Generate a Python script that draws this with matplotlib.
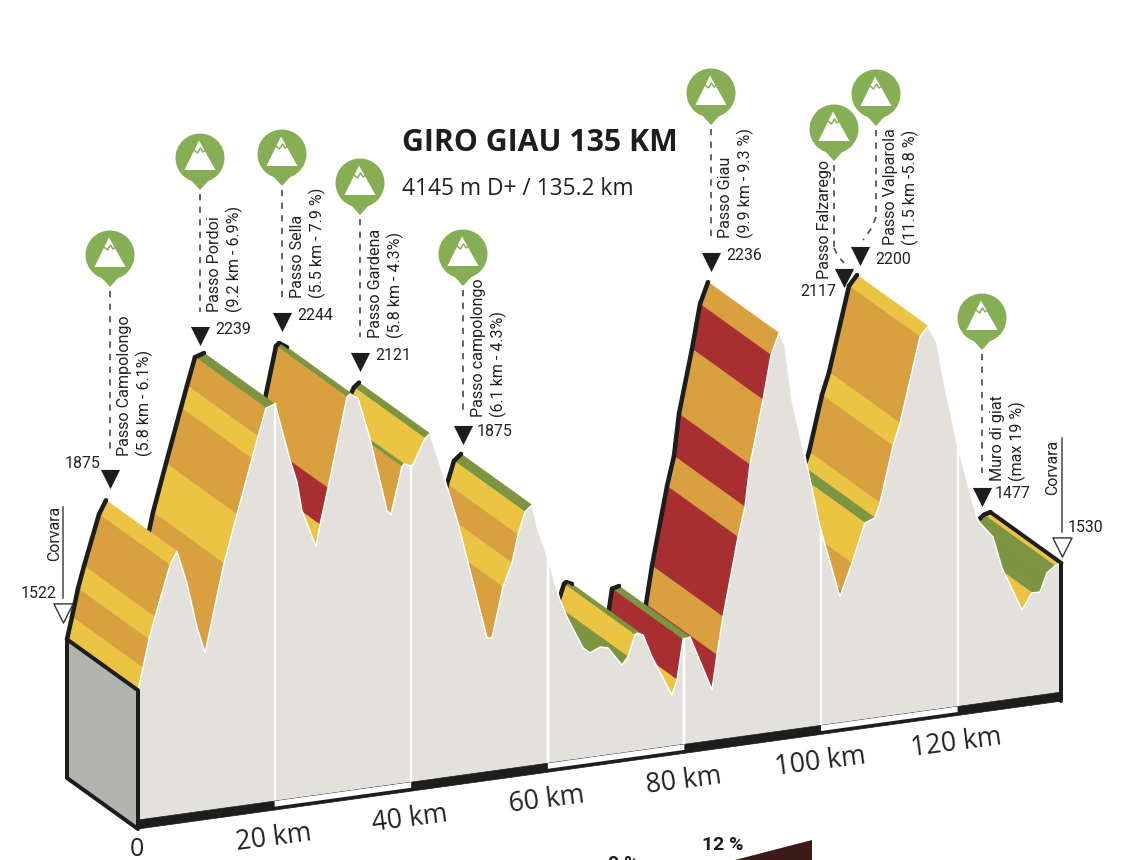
"""Giro Giau 135 km: oblique elevation profile with gradient bands."""
import matplotlib
matplotlib.use("Agg")
import matplotlib.pyplot as plt
import numpy as np
from matplotlib.patches import Circle, Polygon

# Profile. grade[i] is the band of the stretch that ends
# at point i, "-" marks a stretch whose surface faces away from the viewer.
profile_km = [
    0, 0.73, 1.61, 2.49, 4.69, 5.71,
    7.17, 8.64, 9.81,
    12.59, 14.49, 16.69, 17.57, 18.74, 20.06,
    22.25, 23.28, 24.01, 26.06,
    26.65, 27.82, 30.6, 31.04, 32.21,
    33.97, 36.46, 37.04,
    38.65, 38.95, 40.12, 42.02, 42.75,
    43.78, 45.39, 46.85, 51.1, 51.83,
    53.44, 54.76, 55.64, 56.66, 57.69,
    58.57, 59.74, 61.79, 62.81, 65.15, 66.18,
    67.64, 68.81, 70.86,
    71.74, 72.77, 73.06, 73.94,
    75.26, 78.18,
    78.92, 79.8, 80.82, 84.04,
    84.77, 85.65, 87.85, 88.87, 89.6, 91.51, 92.68, 93.85,
    94.73, 95.75, 98.1, 99.85, 102.78,
    103.07, 104.54, 106.44, 107.91, 108.64, 110.54, 111.57, 114.5, 115.67,
    116.98, 117.86, 119.91, 122.84, 123.28, 125.18, 126.5, 129.43,
    130.9, 132.06, 133.09, 134.26, 135.2,
]
profile_alt = [
    1508, 1566, 1640, 1698, 1831, 1866,
    1776, 1655, 1584,
    1817, 1943, 2087, 2144, 2217, 2225,
    2070, 2008, 1930, 1830,
    1886, 1981, 2218, 2225, 2211,
    2099, 1900, 1888,
    2012, 2019, 2009, 2080, 2091,
    2031, 1934, 1842, 1524, 1523,
    1655, 1716, 1789, 1848, 1864,
    1795, 1733, 1600, 1552, 1464, 1448,
    1460, 1455, 1404,
    1424, 1480, 1484, 1477,
    1415, 1306,
    1345, 1450, 1455, 1306,
    1397, 1497, 1705, 1783, 1894, 2063, 2180, 2236,
    2202, 2053, 1860, 1703, 1509,
    1524, 1595, 1698, 1708, 1746, 1894, 1952, 2176, 2202,
    2154, 2061, 1879, 1672, 1657, 1615, 1529, 1410,
    1452, 1451, 1500, 1516, 1521,
]
profile_grade = list(
    "-YOYOY"
    "---"
    "OYOYOG"
    "----"
    "YROGG"
    "---"
    "OGYYG"
    "----O"
    "OYOYG"
    "------"
    "GG-"
    "GYGG"
    "--"
    "YRG-"
    "ROROROR" "O"
    "-----"
    "GOYGYOYOY"
    "--------"
    "YGGGY"
)

km_ticks = [0, 20, 40, 60, 80, 100, 120]
km_labels = ["0", "20 km", "40 km", "60 km", "80 km", "100 km", "120 km"]

climb_names = ["Passo Campolongo\n(5.8 km - 6.1%)", "Passo Pordoi\n(9.2 km - 6.9%)",
               "Passo Sella\n(5.5 km - 7.9 %)", "Passo Gardena\n(5.8 km - 4.3%)",
               "Passo campolongo\n(6.1 km - 4.3%)", "Passo Giau\n(9.9 km - 9.3 %)",
               "Passo Falzarego", "Passo Valparola\n(11.5 km -5.8 %)",
               "Muro di giat\n(max 19 %)"]
climb_alts = ["1875", "2239", "2244", "2121", "1875", "2236", "2117", "2200", "1477"]

# Layout of the annotations, in image pixels.
pin_x = [110, 200, 282, 360, 463, 711, 834, 876, 982]
pin_y = [255, 158, 154, 183, 254, 93, 129, 94, 318]
flag_x = [110, 200, 282, 360, 463, 711, 844, 860, 982]
flag_y = [479, 336, 322, 362, 435, 262, 278, 256, 497]
alt_x = [82, 233, 315, 393, 494, 744, 818, 893, 1013]
alt_y = [463, 329, 315, 355, 432, 255, 291, 259, 493]
name_x = [135, 225, 308, 386, 489, 736, 824, 901, 1008]
name_y = [456, 312, 298, 338, 417, 238, 279, 245, 481]
dash_end = [455, 312, 298, 337, 415, 237, 248, 217, 473]

ORANGE = "#d9a03f"
YELLOW = "#ebc444"
RED = "#a82f31"
GREEN = "#7d9440"
FACE = "#e4e1dc"
SIDE = "#b3b4af"
PIN = "#86ae55"
INK = "#1d1d1b"
GRADE_COLORS = {"Y": YELLOW, "O": ORANGE, "R": RED, "G": GREEN}

BASE_ALT = 1180      # altitude origin of the oblique view
BAND_DROP = 9        # height of the base band under the front face
THIN_DROP = 5.6      # white part of the band in the alternate sections
DEPTH_X, DEPTH_Y = -71, -51


def project(km, alt):
    """Oblique view: km run along a tilted base, altitude goes straight up."""
    km = np.asarray(km, dtype=float)
    alt = np.asarray(alt, dtype=float)
    return 138 + 6.83 * km, 813 - 0.905 * km - 0.374 * (alt - BASE_ALT)


def base_point(km, drop=0):
    """Point on the tilted base band, drop pixels under its upper edge."""
    return 138 + 6.83 * km, 820 - 0.946 * km + drop


def px(width):
    return width * 0.72


plt.rcParams["font.family"] = ["Roboto", "DejaVu Sans"]
fig = plt.figure(figsize=(11.25, 8.6), dpi=100)
ax = fig.add_axes([0, 0, 1, 1])
ax.set_xlim(0, 1125)
ax.set_ylim(860, 0)
ax.axis("off")

xs, ys = project(profile_km, profile_alt)
band_end = profile_km[-1]

# Road surface: strips are painted far end first so nearer ones cover them.
z = 2.0
for i in range(len(xs) - 1, 0, -1):
    grade = profile_grade[i]
    if grade == "-":
        continue
    color = GRADE_COLORS[grade]
    corners = [(xs[i - 1], ys[i - 1]), (xs[i], ys[i]),
               (xs[i] + DEPTH_X, ys[i] + DEPTH_Y),
               (xs[i - 1] + DEPTH_X, ys[i - 1] + DEPTH_Y)]
    ax.add_patch(Polygon(corners, closed=True, facecolor=color, edgecolor=color,
                         lw=0.4, zorder=z))
    z += 0.01
    ax.plot([xs[i - 1] + DEPTH_X, xs[i] + DEPTH_X],
            [ys[i - 1] + DEPTH_Y, ys[i] + DEPTH_Y],
            color=INK, lw=px(4.5), solid_capstyle="round", zorder=z)
    z += 0.01

# Front face.
face_x = [xs[0]] + list(xs) + [xs[-1]]
face_y = [base_point(0)[1]] + list(ys) + [base_point(band_end)[1]]
ax.add_patch(Polygon(list(zip(face_x, face_y)), closed=True, facecolor=FACE,
                     edgecolor="none", zorder=10))
ax.plot(xs, ys, color="white", lw=px(1.5), zorder=10.5)

# White drop lines every 20 km.
for km in km_ticks[1:]:
    top = np.interp(km, profile_km, profile_alt)
    x0, y0 = base_point(km)
    x1, y1 = project(km, top)
    ax.plot([x0, x1], [y0, y1], color="white", lw=px(2.5), zorder=11)

# Base band, black and white by turns.
ax.add_patch(Polygon([base_point(0), base_point(band_end), base_point(band_end, BAND_DROP),
                      base_point(0, BAND_DROP)], closed=True,
                     facecolor=INK, edgecolor=INK, lw=0.5, zorder=12))
for start, stop in zip(km_ticks[1::2], km_ticks[2::2]):
    corners = [base_point(start), base_point(stop),
               base_point(stop, THIN_DROP), base_point(start, THIN_DROP)]
    ax.add_patch(Polygon(corners, closed=True, facecolor="white", edgecolor="none",
                         zorder=13))

# Grey left side and the black outline.
bx0, by0 = base_point(0, BAND_DROP)
bx1, by1 = base_point(band_end, BAND_DROP)
side = [(xs[0], ys[0]), (xs[0] + DEPTH_X, ys[0] + DEPTH_Y),
        (bx0 + DEPTH_X, by0 + DEPTH_Y), (bx0, by0)]
ax.add_patch(Polygon(side, closed=True, facecolor=SIDE, edgecolor=INK, lw=px(4),
                     joinstyle="round", zorder=14))
ax.plot([xs[-1], bx1], [ys[-1], by1], color=INK, lw=px(4),
        solid_capstyle="round", zorder=14)
ax.plot([xs[-1] + DEPTH_X, xs[-1]], [ys[-1] + DEPTH_Y, ys[-1]], color=INK, lw=px(4),
        solid_capstyle="round", zorder=9)

# Kilometre labels follow the tilt of the base.
for km, label in zip(km_ticks, km_labels):
    x, y = base_point(km, BAND_DROP)
    ax.text(x - 1, y + (20 if km == 0 else 28), label, rotation=0 if km == 0 else 7.5,
            rotation_mode="anchor", ha="center", va="center", fontsize=19.2 if km else 18,
            family=["Open Sans", "DejaVu Sans"], color="#222222", zorder=20)

# Pins, dashes, flags and names for the climbs.
for i, name in enumerate(climb_names):
    cx, cy = pin_x[i], pin_y[i]
    ax.add_patch(Circle((cx, cy), 24.5, facecolor=PIN, edgecolor="none", zorder=20))
    ax.add_patch(Polygon([(cx - 9, cy + 22), (cx + 9, cy + 22), (cx, cy + 32)], closed=True,
                         facecolor=PIN, edgecolor="none", zorder=20))
    ax.add_patch(Polygon([(cx - 15.5, cy + 12), (cx + 15.5, cy + 12), (cx - 1, cy - 17.5)],
                         closed=True, facecolor="white", edgecolor="none", zorder=21))
    ax.plot([cx - 6, cx - 2.5, cx + 0.5, cx + 3, cx + 7],
            [cy - 8, cy - 5, cy - 10, cy - 6, cy - 9],
            color=PIN, lw=px(1.5), zorder=22)
    ax.plot([cx, cx], [cy + 36, dash_end[i]], color="#555555", lw=px(1.8),
            dashes=(3.5, 3.5), zorder=19)
    ax.text(alt_x[i], alt_y[i], climb_alts[i], ha="center", va="center", fontsize=11.4,
            color="#222222", zorder=20)
    ax.text(name_x[i], name_y[i], name, rotation=90, ha="center", va="bottom",
            multialignment="left", fontsize=11.6, linespacing=1.22, color="#222222",
            zorder=20)

# Falzarego and Valparola bend towards their summits.
ax.plot([834, 838, 844], [248, 256, 263], color="#555555", lw=px(1.8),
        dashes=(3.5, 3.5), zorder=19)
ax.plot([876, 871, 863], [217, 229, 240], color="#555555", lw=px(1.8),
        dashes=(3.5, 3.5), zorder=19)
ax.scatter(flag_x, flag_y, marker="v", s=190, color=INK, linewidths=0, zorder=20)

# Start and finish.
for x, y, top, bottom, tx, ty, ax_x, ax_y, alt in [(63, 613, 507, 598, 55, 533, 39, 593, "1522"),
                                                   (1062, 547, 438, 532, 1053, 467, 1085, 527, "1530")]:
    ax.scatter([x], [y], marker="v", s=190, facecolor="white", edgecolor="#333333",
               linewidths=1, zorder=20)
    ax.plot([x - 0.5, x - 0.5], [top, bottom], color="#444444", lw=px(1.5), zorder=19)
    ax.text(tx, ty, "Corvara", rotation=90, ha="center", va="center", fontsize=11.4,
            color="#222222", zorder=20)
    ax.text(ax_x, ax_y, alt, ha="center", va="center", fontsize=11.4, color="#222222",
            zorder=20)

ax.text(402, 143, "GIRO GIAU 135 KM", ha="left", va="center", fontsize=21.8, fontweight="bold",
        family=["Open Sans", "DejaVu Sans"], color=INK)
ax.text(402, 189, "4145 m D+ / 135.2 km", ha="left", va="center", fontsize=16.4,
        family=["Open Sans", "DejaVu Sans"], color="#222222")

# Legend, cut off by the lower edge of the picture.
ax.add_patch(Polygon([(735, 860), (812, 840), (812, 860)], closed=True, facecolor="#3a1b18",
                     edgecolor="none", zorder=20))
ax.text(723, 845, "12 %", ha="center", va="center", fontsize=14, fontweight="bold", color=INK)
ax.text(623, 864, "9 %", ha="center", va="center", fontsize=14, fontweight="bold", color=INK)

fig.savefig("out.png", dpi=100)
